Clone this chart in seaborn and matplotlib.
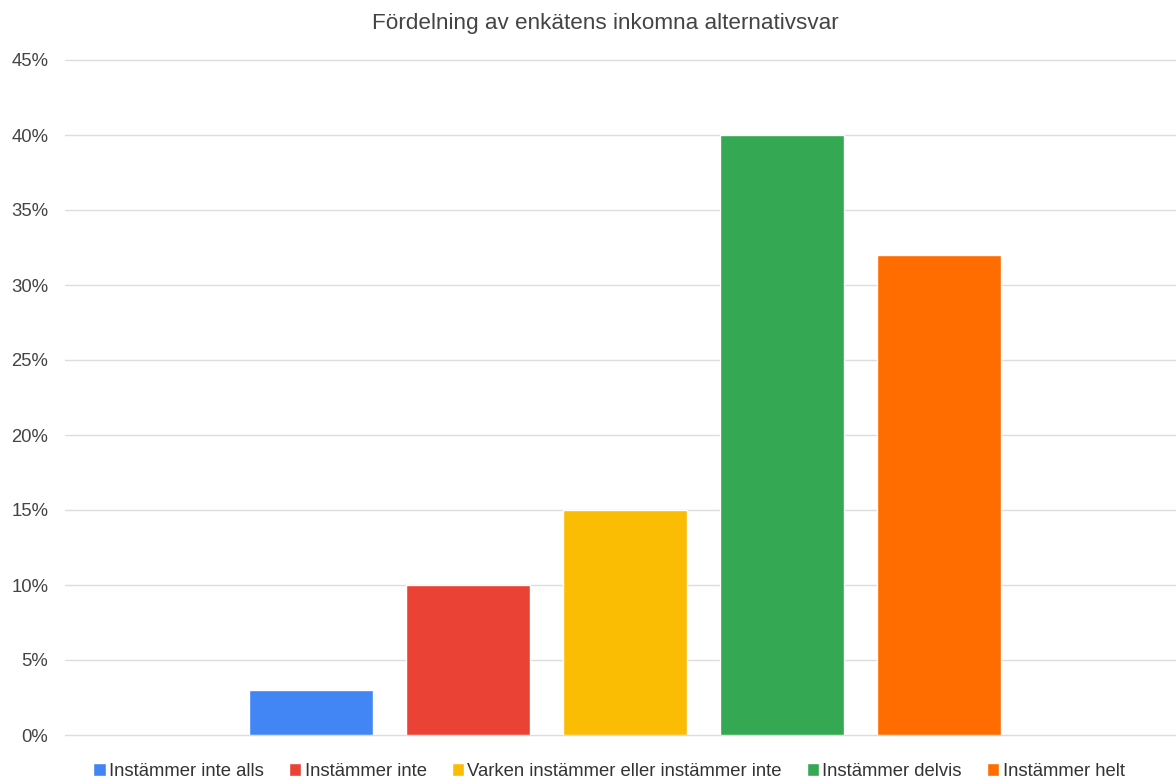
import matplotlib
matplotlib.use("Agg")
import matplotlib.pyplot as plt
import seaborn as sns
import pandas as pd
from matplotlib.ticker import FuncFormatter, MultipleLocator

categories = ["Instämmer inte alls", "Instämmer inte",
              "Varken instämmer eller instämmer inte",
              "Instämmer delvis", "Instämmer helt"]
values = [3, 10, 15, 40, 32]
colors = ["#4285F4", "#EA4335", "#FBBC04", "#34A853", "#FF6D01"]
title = "Fördelning av enkätens inkomna alternativsvar"

sns.set_theme(style="white")
plt.rcParams['font.family'] = ['Liberation Sans', 'DejaVu Sans']

df = pd.DataFrame({"grp": [""] * len(categories), "cat": categories, "val": values})

fig = plt.figure(figsize=(11.76, 7.8), dpi=100)
ax = fig.add_axes([65/1176, 45/780, (1176-65)/1176, (735-60)/780])
sns.barplot(data=df, x="grp", y="val", hue="cat", hue_order=categories,
            palette=colors, width=0.8, gap=0.21, ax=ax, legend=True, saturation=1)

ax.set_xlim(-0.571, 0.562)
ax.set_ylim(0, 45)
ax.yaxis.set_major_locator(MultipleLocator(5))
ax.yaxis.set_major_formatter(FuncFormatter(lambda v, p: f"{int(round(v))}%"))
ax.grid(axis="y", color="#dddddd", linewidth=1)
ax.set_axisbelow(True)
for gl in ax.get_ygridlines():
    gl.set_clip_on(False)
for s in ax.spines.values():
    s.set_visible(False)
ax.set_xlabel("")
ax.set_ylabel("")
ax.set_xticks([])
ax.tick_params(axis="y", length=0, pad=12, labelsize=13.3, labelcolor="#444444")

fig.text(605/1176, 1 - 23/780, title, ha="center", va="center", fontsize=16.2, color="#444444")

leg = ax.legend(loc="center", bbox_to_anchor=((609 - 65) / 1111, (735 - 772) / 675), ncol=5,
                frameon=False, fontsize=13.3, handlelength=0.55, handleheight=0.55,
                handletextpad=0.3, columnspacing=1.35, labelcolor="#333333")
for h in leg.legend_handles:
    h.set_height(9)
    h.set_width(9)

fig.savefig("out.png", dpi=100)
